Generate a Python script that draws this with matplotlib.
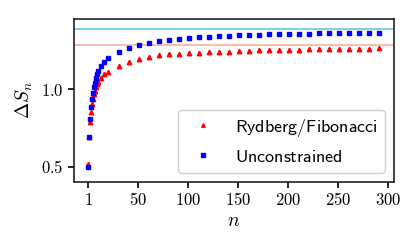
import matplotlib
matplotlib.use("Agg")
import matplotlib.pyplot as plt

plt.rcParams['mathtext.fontset'] = 'cm'
plt.rcParams['font.family'] = 'serif'
plt.rcParams['font.serif'] = ['DejaVu Serif']
plt.rcParams['axes.unicode_minus'] = False

# subsystem sizes n
n_vals = [1, 2, 3, 4, 5, 6, 7, 8, 9, 10, 11, 14, 17, 21,
          31, 41, 51, 61, 71, 81, 91, 101, 111, 121, 131, 141, 151, 161,
          171, 181, 191, 201, 211, 221, 231, 241, 251, 261, 271, 281, 291]

# Rydberg / Fibonacci constrained
ryd = [0.515, 0.692, 0.787, 0.852, 0.901, 0.935, 0.965, 0.990, 1.012, 1.030,
       1.045, 1.069, 1.095, 1.111,
       1.150, 1.174, 1.196, 1.205, 1.217, 1.224, 1.228, 1.232, 1.234, 1.237,
       1.239, 1.241, 1.245, 1.247, 1.249, 1.252, 1.254, 1.254, 1.255, 1.256,
       1.256, 1.258, 1.258, 1.260, 1.260, 1.261, 1.263]

# unconstrained
unc = [0.500, 0.692, 0.806, 0.882, 0.934, 0.975, 1.012, 1.040, 1.070, 1.094,
       1.115, 1.148, 1.174, 1.198,
       1.241, 1.266, 1.284, 1.299, 1.310, 1.318, 1.323, 1.329, 1.334, 1.337,
       1.340, 1.344, 1.346, 1.348, 1.350, 1.353, 1.353, 1.355, 1.357, 1.357,
       1.359, 1.359, 1.359, 1.361, 1.361, 1.363, 1.363]

# asymptotic values
lim_unc = 1.386
lim_ryd = 1.287

fig = plt.figure(figsize=(4.15, 2.5), dpi=100)
ax = fig.add_axes([0.178, 0.272, 0.771, 0.652])

ax.axhline(lim_unc, color='#5cc8ef', lw=1.2, zorder=1)
ax.axhline(lim_ryd, color='#ffae9c', lw=1.2, zorder=1)

ax.plot(n_vals, ryd, ls='none', marker='^', ms=3.2, color='#ff0000',
        label=r'$\mathsf{Rydberg/Fibonacci}$', zorder=2)
ax.plot(n_vals, unc, ls='none', marker='s', ms=3.0, color='#0000ff',
        label=r'$\mathsf{Unconstrained}$', zorder=3)

ax.set_ylim(0.4, 1.452)
ax.set_xticks([1, 50, 100, 150, 200, 250, 300])
ax.set_xticklabels([r'$%d$' % t for t in [1, 50, 100, 150, 200, 250, 300]])
ax.set_yticks([0.5, 1.0])
ax.set_yticklabels([r'$0.5$', r'$1.0$'])
ax.tick_params(labelsize=12, length=4, width=1.2, direction='out')
for s in ax.spines.values():
    s.set_linewidth(1.2)
    s.set_color('#222222')

ax.set_xlabel(r'$n$', fontsize=14, labelpad=2)
ax.set_ylabel(r'$\Delta S_n$', fontsize=14, labelpad=4)

leg = ax.legend(loc='lower right', fontsize=13, handlelength=2.0,
                handletextpad=0.75, borderpad=0.4, labelspacing=0.5,
                markerscale=0.8, framealpha=1.0, borderaxespad=0.5)
leg.get_frame().set_edgecolor('#d0d0d0')

fig.savefig('out.png', dpi=100)
